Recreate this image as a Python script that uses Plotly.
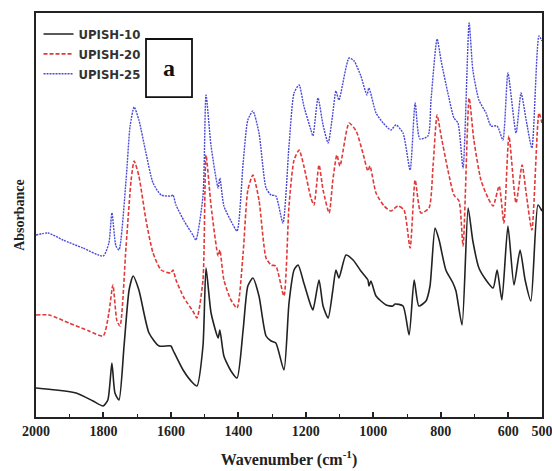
import plotly.graph_objects as go

# UPISH-10 (black, solid)
wn_10 = [2000, 1941, 1881, 1831, 1801, 1787, 1775, 1766, 1754, 1739, 1724, 1712, 1695, 1665, 1635, 1600, 1594,
         1564, 1535, 1523, 1505, 1496, 1481, 1460, 1455, 1443, 1422, 1404, 1386, 1372, 1357, 1339, 1318, 1303,
         1289, 1265, 1250, 1235, 1223, 1206, 1185, 1179, 1161, 1149, 1134, 1120, 1111, 1102, 1081, 1060, 1037,
         1016, 1013, 1007, 992, 962, 942, 936, 912, 894, 879, 865, 844, 832, 817, 805, 785, 764, 755, 737, 719,
         705, 687, 666, 645, 633, 619, 601, 583, 565, 550, 533, 512, 500]
ab_10 = [0.29, 0.27, 0.24, 0.16, 0.11, 0.17, 0.54, 0.24, 0.17, 0.71, 1.27, 1.41, 1.27, 0.84, 0.71, 0.71, 0.67,
         0.47, 0.34, 0.31, 0.71, 1.49, 1.04, 0.79, 0.87, 0.61, 0.46, 0.39, 0.87, 1.31, 1.39, 1.21, 0.81, 0.76,
         0.74, 0.47, 1.14, 1.47, 1.52, 1.34, 1.11, 1.07, 1.37, 1.11, 0.99, 1.27, 1.47, 1.39, 1.62, 1.57, 1.46,
         1.37, 1.31, 1.36, 1.21, 1.12, 1.11, 1.13, 1.11, 0.82, 1.37, 1.11, 1.16, 1.31, 1.89, 1.77, 1.47, 1.34,
         1.26, 0.92, 2.09, 1.76, 1.49, 1.37, 1.29, 1.47, 1.17, 1.91, 1.32, 1.67, 1.37, 1.16, 2.12, 2.06]

# UPISH-20 (red, dashed)
wn_20 = [2000, 1961, 1902, 1843, 1801, 1784, 1772, 1760, 1751, 1733, 1718, 1709, 1695, 1674, 1653, 1629, 1600,
         1594, 1585, 1561, 1535, 1523, 1505, 1496, 1481, 1460, 1455, 1443, 1422, 1404, 1386, 1372, 1357, 1339,
         1318, 1303, 1289, 1265, 1250, 1235, 1220, 1206, 1185, 1176, 1161, 1149, 1131, 1120, 1108, 1099, 1072,
         1051, 1031, 1016, 1010, 992, 968, 948, 927, 909, 891, 876, 859, 835, 823, 811, 799, 779, 761, 746, 734,
         716, 702, 681, 660, 645, 627, 613, 598, 577, 559, 547, 530, 509, 500]
ab_20 = [1.02, 1.02, 0.94, 0.86, 0.81, 1.04, 1.32, 0.96, 0.91, 1.71, 2.37, 2.56, 2.41, 1.97, 1.64, 1.47, 1.44,
         1.47, 1.37, 1.19, 1.06, 0.99, 1.37, 2.62, 2.11, 1.61, 1.67, 1.37, 1.17, 1.09, 1.64, 2.27, 2.42, 2.17,
         1.59, 1.52, 1.51, 1.21, 2.11, 2.57, 2.67, 2.51, 2.19, 2.12, 2.52, 2.27, 2.04, 2.37, 2.62, 2.51, 2.94,
         2.86, 2.64, 2.46, 2.51, 2.24, 2.11, 2.06, 2.11, 2.07, 1.69, 2.37, 2.04, 2.09, 2.51, 3.02, 2.81, 2.47,
         2.22, 2.16, 1.71, 3.19, 2.77, 2.37, 2.19, 2.11, 2.31, 1.94, 2.81, 2.14, 2.52, 2.24, 1.87, 3.04, 2.94]

# UPISH-25 (blue, dotted)
wn_25 = [2000, 1964, 1920, 1861, 1801, 1784, 1775, 1763, 1754, 1733, 1721, 1709, 1695, 1674, 1653, 1629, 1600,
         1594, 1585, 1561, 1535, 1526, 1505, 1496, 1481, 1460, 1455, 1443, 1422, 1404, 1386, 1372, 1357, 1339,
         1318, 1303, 1289, 1268, 1250, 1235, 1220, 1206, 1185, 1179, 1164, 1149, 1134, 1120, 1111, 1102, 1072,
         1057, 1037, 1019, 1013, 992, 971, 948, 933, 912, 891, 876, 862, 838, 829, 811, 799, 779, 761, 749, 734,
         716, 705, 687, 666, 651, 633, 616, 601, 577, 562, 547, 530, 509, 500]
ab_25 = [1.82, 1.84, 1.77, 1.69, 1.61, 1.74, 2.04, 1.71, 1.67, 2.37, 2.91, 3.10, 2.97, 2.64, 2.34, 2.22, 2.21,
         2.22, 2.12, 1.96, 1.82, 1.77, 2.21, 3.22, 2.71, 2.29, 2.39, 2.11, 1.96, 1.86, 2.54, 2.97, 3.06, 2.84,
         2.29, 2.22, 2.21, 1.94, 2.71, 3.24, 3.32, 3.11, 2.87, 2.81, 3.19, 2.92, 2.74, 3.04, 3.26, 3.17, 3.59,
         3.56, 3.41, 3.22, 3.29, 3.04, 2.94, 2.87, 2.92, 2.84, 2.47, 3.14, 2.78, 2.81, 3.17, 3.78, 3.56, 3.24,
         2.99, 2.94, 2.49, 3.94, 3.47, 3.17, 3.04, 2.91, 2.91, 2.77, 3.44, 2.84, 3.24, 2.97, 2.69, 3.81, 3.76]

tick_vals = [2000, 1800, 1600, 1400, 1200, 1000, 800, 600, 500]
tick_text = ["<b>%d</b>" % v for v in tick_vals]
series_names = ["UPISH-10", "UPISH-20", "UPISH-25"]

serif = "Liberation Serif, DejaVu Serif, serif"
narrow = "Liberation Sans Narrow, Arial Narrow, DejaVu Sans Condensed, sans-serif"

fig = go.Figure()
fig.add_trace(go.Scatter(x=wn_10, y=ab_10, mode="lines", name="<b>%s</b>" % series_names[0],
                         line=dict(color="#222222", width=1.6, shape="spline", smoothing=0.6)))
fig.add_trace(go.Scatter(x=wn_20, y=ab_20, mode="lines", name="<b>%s</b>" % series_names[1],
                         line=dict(color="#e03a3a", width=1.6, dash="4px,2px", shape="spline", smoothing=0.6)))
fig.add_trace(go.Scatter(x=wn_25, y=ab_25, mode="lines", name="<b>%s</b>" % series_names[2],
                         line=dict(color="#4a4ad6", width=1.4, dash="2px,1px", shape="spline", smoothing=0.6)))

fig.update_layout(
    width=552, height=471,
    margin=dict(l=36, r=10, t=13, b=54, autoexpand=False),
    paper_bgcolor="white", plot_bgcolor="white",
    showlegend=True,
    legend=dict(x=0.005, y=0.985, xanchor="left", yanchor="top",
                font=dict(family=narrow, size=13, color="#333333"),
                bgcolor="rgba(0,0,0,0)", borderwidth=0, tracegroupgap=0),
    xaxis=dict(range=[2000, 500], tickmode="array", tickvals=tick_vals, ticktext=tick_text,
               ticks="inside", ticklen=5, tickwidth=1.5, tickcolor="#222",
               ticklabeloverflow="allow",
               minor=dict(tickvals=[1900, 1700, 1500, 1300, 1100, 900, 700], ticks="inside",
                          ticklen=3, tickwidth=1.2, tickcolor="#222"),
               showline=True, linecolor="#222", linewidth=2, mirror=True,
               showgrid=False, zeroline=False, automargin=False,
               tickfont=dict(family=serif, size=14, color="#222"),
               title=dict(text="<b>Wavenumber (cm<sup>-1</sup>)</b>",
                          font=dict(family=serif, size=16, color="#222"), standoff=16)),
    yaxis=dict(range=[0, 4.04], showticklabels=False, ticks="",
               showline=True, linecolor="#222", linewidth=2, mirror=True,
               showgrid=False, zeroline=False, automargin=False,
               title=dict(text="<b>Absorbance</b>", font=dict(family=serif, size=14, color="#222"),
                          standoff=6)),
)

fig.add_shape(type="rect", xref="paper", yref="paper", x0=0.2174, x1=0.3083, y0=0.792, y1=0.9356,
              line=dict(color="#111", width=1.8), fillcolor="white")
fig.add_annotation(xref="paper", yref="paper", x=0.2628, y=0.864, text="<b>a</b>", showarrow=False,
                   font=dict(family=serif, size=24, color="#111"), xanchor="center", yanchor="middle")

fig.write_html("out.html", config={"displayModeBar": False},
               post_script="document.body.style.margin='0';document.body.style.overflow='hidden';")
